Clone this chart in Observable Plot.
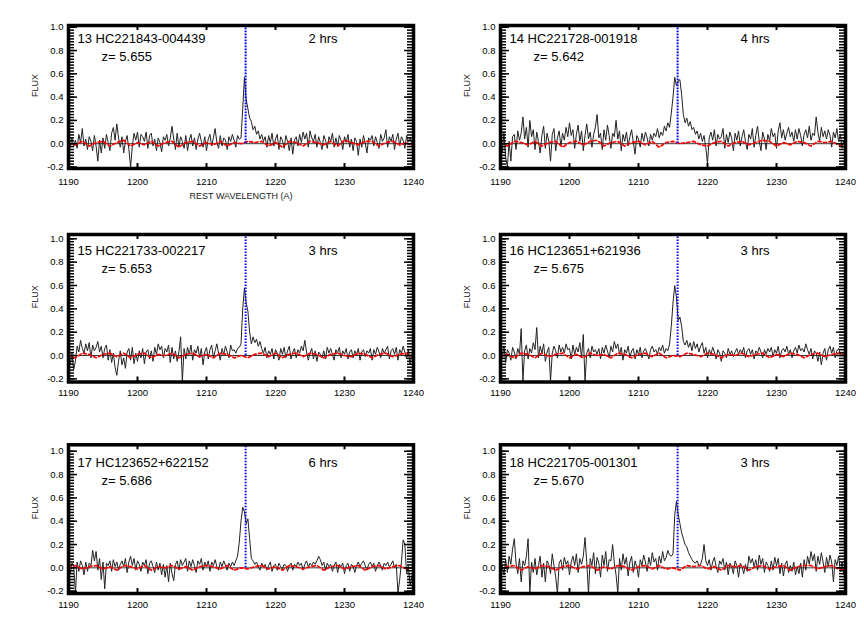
<!DOCTYPE html>
<html><head><meta charset="utf-8">
<script src="https://cdn.jsdelivr.net/npm/d3@7"></script>
<script src="https://cdn.jsdelivr.net/npm/@observablehq/plot@0.6"></script>
<style>
body{margin:0;background:#fff;}
#chart{position:relative;width:864px;height:637px;overflow:hidden;background:#fff;}
.panel{position:absolute;}
</style></head><body><div id="chart"></div>
<script>
// ---- data (flux sampled every 0.25 A from 1190 A; error-like red curve every 1 A) ----
const waveStart = 1190, fluxStep = 0.25, errStep = 1;
const lyaWave = 1215.67;
const xTickVals = [1190, 1200, 1210, 1220, 1230, 1240];
const yTickVals = [-0.2, 0, 0.2, 0.4, 0.6, 0.8, 1.0];

const names = ["13 HC221843-004439","14 HC221728-001918","15 HC221733-002217","16 HC123651+621936","17 HC123652+622152","18 HC221705-001301"];
const redshifts = ["5.655","5.642","5.653","5.675","5.686","5.670"];
const hours = ["2 hrs","4 hrs","3 hrs","3 hrs","6 hrs","3 hrs"];

const flux13 = [
0.02,-0.03,0.05,-0.02, 0.03,-0.04,0.08,0.01, 0.13,-0.02,0.04,-0.05, 0.06,0.02,-0.06,0.07,
-0.02,-0.15,0.03,-0.08, 0.05,-0.04,0.08,0.01, -0.06,0.09,0.14,0.03, 0.17,0.05,-0.03,0.06,
-0.08,0.02,0.07,-0.05, -0.20,-0.02,0.09,0.03, 0.10,-0.03,0.08,0.06, 0.02,0.10,-0.04,0.07,
0.09,-0.02,0.04,-0.06, 0.05,0.01,-0.07,0.06, 0.03,0.08,-0.02,0.05, 0.15,0.04,-0.05,0.09,
-0.03,0.06,0.02,-0.04, 0.07,-0.06,0.03,0.08, -0.02,0.05,-0.05,0.04, 0.09,0.02,-0.03,0.06,
-0.06,0.04,0.08,-0.02, 0.05,0.13,0.01,-0.04, 0.07,-0.02,0.05,0.03, -0.05,0.06,0.02,0.08,
0.03,-0.03,0.07,0.04, 0.05,0.30,0.57,0.38, 0.30,0.22,0.19,0.12, 0.15,0.08,0.11,0.04,
0.08,0.02,0.06,-0.03, 0.07,0.01,0.09,-0.02, 0.04,0.08,-0.05,0.06, 0.03,-0.04,0.07,0.02,
-0.06,0.05,-0.09,0.03, 0.06,-0.02,0.08,0.01, 0.10,0.04,0.09,-0.03, 0.11,0.05,0.02,0.08,
-0.03,0.06,0.01,-0.05, 0.07,0.03,-0.04,0.06, 0.02,0.09,-0.03,0.05, -0.02,0.07,0.03,-0.05,
0.06,0.01,0.08,-0.03, 0.04,-0.06,0.05,0.02, -0.10,0.04,-0.03,0.07, 0.01,-0.08,0.05,0.03,
0.07,-0.02,0.06,0.01, -0.04,0.08,0.02,0.05, 0.12,-0.03,0.06,0.02, 0.08,-0.05,0.04,0.09,
-0.02,0.06,0.03,-0.04, 0.07,0.02,0.05,0.01, 0.03];
const flux14 = [
0.05,-0.08,0.10,-0.12, -0.20,0.02,-0.15,0.06, 0.08,-0.05,0.11,0.03, 0.09,0.23,0.04,0.14,
-0.03,0.20,0.06,0.12, -0.05,0.10,0.02,-0.08, 0.07,0.15,-0.04,0.09, 0.02,-0.15,0.08,0.13,
-0.06,0.05,0.11,-0.02, 0.09,0.03,0.14,0.06, 0.18,0.07,0.12,-0.04, 0.08,0.16,0.02,0.11,
-0.06,0.07,0.17,0.04, 0.10,-0.03,0.08,0.14, 0.25,0.05,0.09,-0.05, 0.12,0.03,0.16,0.07,
-0.04,0.09,0.06,0.20, 0.04,0.11,-0.06,0.08, 0.02,0.10,-0.02,0.06, 0.12,0.01,-0.09,0.07,
0.04,-0.03,0.09,0.02, 0.10,0.05,-0.02,0.08, 0.03,0.09,0.06,0.13, 0.05,0.10,0.07,0.15,
0.11,0.18,0.14,0.26, 0.40,0.57,0.50,0.54, 0.55,0.42,0.25,0.18, 0.22,0.15,0.19,0.12,
0.14,0.08,0.11,0.04, 0.09,0.02,0.07,-0.03, -0.17,0.05,0.10,0.03, 0.12,-0.02,0.08,0.04,
0.06,0.13,-0.04,0.08, 0.01,0.10,0.05,-0.06, 0.09,0.03,0.11,-0.02, 0.06,0.12,0.02,-0.05,
0.08,0.04,0.13,-0.03, 0.07,0.15,0.02,-0.06, 0.10,0.04,-0.05,0.08, 0.02,0.13,0.06,0.09,
-0.04,0.11,0.18,0.05, 0.12,0.03,0.09,0.14, 0.06,0.10,0.02,0.12, 0.04,0.13,0.07,-0.02,
0.08,0.12,0.05,0.15, 0.03,0.09,0.07,0.23, 0.10,0.02,0.14,0.06, 0.11,0.04,0.12,0.07,
-0.03,0.10,0.05,0.13, 0.02,0.08,-0.04,0.03, 0.01];
const flux15 = [
-0.03,-0.08,0.02,-0.12, -0.05,0.08,0.03,0.13, 0.06,0.02,0.10,0.04, 0.11,-0.02,0.09,0.04,
0.07,0.12,0.03,0.08, -0.02,0.06,0.09,-0.04, 0.05,-0.06,0.02,-0.10, -0.17,-0.05,0.04,-0.08,
-0.02,-0.11,0.03,0.06, -0.04,0.07,-0.07,0.02, -0.05,0.04,-0.02,0.06, -0.07,0.03,0.05,-0.03,
0.04,-0.05,0.07,0.01, 0.10,0.05,0.08,-0.02, 0.06,0.03,0.09,-0.06, 0.07,-0.03,0.04,-0.05,
0.03,0.16,-0.22,0.06, -0.03,0.07,0.01,0.09, -0.04,0.05,0.02,0.08, -0.02,0.06,-0.08,0.03,
0.07,-0.03,0.05,0.09, -0.02,0.04,0.10,0.02, -0.04,0.06,0.01,0.08, 0.03,-0.02,0.09,0.04,
0.05,0.02,0.06,0.07, 0.10,0.40,0.58,0.45, 0.38,0.20,0.10,0.16, 0.11,0.14,0.08,0.12,
0.06,0.02,0.07,-0.02, 0.04,0.01,0.06,-0.03, 0.05,0.02,-0.04,0.06, 0.01,0.07,-0.02,0.04,
0.08,-0.03,0.03,0.06, -0.02,0.05,0.02,0.08, 0.04,0.13,0.03,-0.04, 0.02,0.06,-0.03,0.04,
-0.05,0.03,0.01,-0.02, 0.04,-0.03,0.07,0.02, 0.06,0.01,-0.04,0.05, 0.02,0.07,-0.02,0.04,
0.01,0.06,-0.03,0.03, 0.05,-0.02,0.04,0.01, 0.06,-0.04,0.03,0.05, -0.01,0.04,0.02,0.06,
-0.04,0.05,0.01,0.07, 0.03,-0.02,0.06,0.02, 0.05,0.08,-0.03,0.04, 0.06,0.01,0.07,-0.04,
0.05,0.02,0.08,0.03, -0.03,0.05,-0.08,0.01, -0.02];
const flux16 = [
0.06,-0.02,0.08,-0.06, 0.05,0.02,-0.04,0.07, 0.03,-0.03,0.06,0.01, 0.23,-0.22,0.04,0.09,
-0.03,0.06,0.02,0.11, 0.05,0.24,-0.02,0.08, 0.02,0.10,-0.05,0.03, 0.07,-0.22,0.02,0.08,
0.04,-0.02,0.09,0.03, 0.07,0.02,0.10,0.05, 0.06,-0.03,0.09,0.01, 0.07,0.03,0.11,-0.02,
0.18,-0.22,0.02,0.06, -0.02,0.08,0.03,0.05, 0.01,0.06,-0.03,0.07, 0.02,0.09,0.04,-0.02,
0.08,0.03,0.12,0.06, 0.10,0.01,0.07,-0.04, 0.05,0.02,0.08,-0.02, 0.04,0.06,-0.03,0.05,
0.01,0.07,-0.02,0.04, 0.06,0.02,-0.03,0.05, 0.08,0.03,0.05,0.01, 0.07,0.04,0.09,0.02,
0.06,0.04,0.10,0.25, 0.45,0.60,0.50,0.30, 0.33,0.25,0.12,0.09, 0.13,0.07,0.11,0.04,
0.12,0.06,0.10,0.03, 0.08,0.11,0.02,0.07, -0.02,0.05,0.01,0.07, 0.03,-0.03,0.05,0.02,
-0.05,0.04,0.02,-0.02, 0.06,0.01,0.04,-0.01, 0.03,0.06,0.01,0.05, 0.02,0.07,-0.02,0.04,
0.06,0.01,0.05,-0.03, 0.04,0.02,0.07,0.03, -0.02,0.05,0.01,0.06, 0.03,0.07,-0.01,0.05,
0.02,0.08,-0.02,0.04, 0.06,0.03,0.08,0.01, 0.05,-0.02,0.04,0.07, 0.02,0.09,0.04,0.06,
0.03,0.10,0.05,0.01, 0.06,-0.03,0.04,0.02, -0.05,0.03,-0.08,0.02, 0.06,-0.04,0.05,0.08,
0.02,0.07,-0.02,0.04, 0.06,0.01,0.03,-0.01, 0.00];
const flux17 = [
0.03,-0.05,0.04,0.02, -0.22,0.05,-0.03,0.06, 0.02,-0.06,0.05,-0.03, 0.04,0.02,0.15,0.06,
0.14,-0.02,0.08,-0.10, 0.05,-0.18,0.04,0.02, 0.06,-0.03,0.07,0.01, 0.05,-0.02,0.03,0.06,
0.01,0.08,-0.04,0.05, 0.10,0.02,0.08,-0.02, 0.06,0.03,-0.03,0.05, 0.02,0.07,-0.05,0.04,
0.06,0.01,-0.04,0.05, -0.02,0.04,-0.06,0.03, -0.08,0.02,-0.12,0.04, -0.05,-0.11,0.03,0.06,
-0.02,0.07,0.02,0.05, 0.08,-0.03,0.06,0.01, 0.07,0.02,-0.04,0.06, 0.03,0.08,-0.02,0.05,
0.01,0.06,-0.03,0.05, 0.02,0.07,0.01,-0.02, 0.05,0.01,0.06,0.02, -0.02,0.04,0.01,0.05,
0.02,0.06,0.10,0.22, 0.40,0.52,0.48,0.38, 0.42,0.25,0.08,0.06, 0.03,0.05,0.01,-0.02,
0.04,0.01,0.03,-0.02, 0.02,0.05,-0.03,0.02, 0.03,-0.02,0.04,0.01, -0.01,0.03,0.02,-0.03,
0.02,0.04,-0.02,0.03, 0.01,0.05,0.02,0.04, -0.02,0.03,0.06,0.01, 0.04,0.02,0.05,0.03,
0.06,0.10,0.07,0.02, 0.05,-0.02,0.04,0.01, 0.03,-0.03,0.02,0.05, -0.04,0.03,0.01,0.04,
-0.05,0.02,0.04,-0.03, 0.03,0.01,-0.04,0.02, 0.05,0.01,0.04,0.06, 0.02,-0.02,0.03,0.05,
0.01,0.04,-0.03,0.02, 0.05,0.02,-0.02,0.04, 0.02,0.05,0.01,0.03, 0.06,0.00,0.03,-0.22,
-0.10,0.05,0.24,0.20, -0.05,0.02,-0.15,-0.08, -0.02];
const flux18 = [
-0.10,0.02,-0.06,0.07, -0.04,0.10,0.03,0.16, 0.25,0.04,-0.05,0.08, -0.12,0.06,0.02,0.10,
0.25,-0.22,0.05,-0.04, 0.08,-0.06,0.02,0.10, -0.08,0.04,-0.12,0.06, 0.03,-0.05,0.12,0.02,
-0.08,-0.22,0.04,0.07, -0.02,0.09,0.03,0.06, -0.06,0.05,0.10,0.02, 0.12,-0.04,0.08,0.03,
0.10,0.26,0.05,-0.22, 0.08,0.02,0.13,-0.05, 0.09,0.04,-0.08,0.11, 0.02,0.14,-0.03,0.07,
0.06,0.20,0.04,-0.06, -0.22,0.08,-0.02,0.12, 0.03,0.09,-0.07,0.05, 0.10,-0.04,0.06,0.01,
-0.08,0.07,0.02,0.11, 0.05,-0.03,0.09,0.02, 0.13,0.05,0.08,-0.02, 0.10,0.04,0.14,0.06,
0.09,0.15,0.11,0.10, 0.12,0.45,0.57,0.46, 0.38,0.30,0.25,0.20, 0.18,0.13,0.10,0.07,
0.05,0.04,0.06,0.02, 0.03,0.08,0.20,0.06, 0.02,0.07,-0.02,0.05, 0.09,0.01,-0.04,0.06,
0.03,0.08,-0.02,0.05, -0.06,0.04,0.01,-0.05, 0.06,0.02,-0.08,0.04, 0.01,-0.05,0.03,-0.03,
0.10,0.04,0.08,0.01, 0.07,-0.02,0.11,0.03, 0.08,-0.04,0.05,0.02, -0.03,0.06,-0.02,0.09,
0.02,0.08,-0.05,0.04, -0.07,0.03,0.06,-0.04, 0.02,-0.03,0.05,-0.06, 0.01,-0.05,0.04,-0.08,
0.07,-0.02,0.10,0.03, 0.14,0.06,0.12,-0.03, 0.10,0.03,0.13,0.05, -0.04,0.09,0.01,0.11,
0.05,-0.12,0.07,0.02, 0.10,-0.03,0.05,-0.06, -0.04];

const err13 = [0.00,-0.01,0.02,-0.02,0.01,0.02,-0.02,0.01,0.03,-0.02,0.01,-0.01,0.02,-0.02,0.01,0.02,-0.03,0.01,0.02,-0.02,0.01,-0.01,0.02,-0.02,0.01,0.00,0.02,0.01,0.02,-0.02,0.01,-0.03,0.02,0.01,-0.02,0.02,0.01,-0.01,0.02,-0.02,0.03,0.01,-0.01,0.02,0.02,-0.02,0.01,0.02,-0.01,0.01,-0.03];
const err14 = [0.01,-0.02,0.02,0.01,-0.01,0.02,-0.02,0.01,0.02,-0.03,0.01,0.02,-0.01,0.02,0.03,-0.02,0.01,0.02,-0.02,0.01,0.02,-0.01,0.02,-0.03,0.01,0.02,0.00,0.01,0.02,-0.01,-0.02,0.01,0.02,-0.02,0.01,0.02,-0.01,0.01,0.03,0.02,-0.02,0.01,-0.01,0.02,0.01,-0.02,0.02,0.01,0.02,-0.01,-0.03];
const err15 = [0.00,-0.02,0.02,0.01,-0.02,0.01,0.02,-0.01,0.02,-0.02,0.01,0.02,-0.02,0.01,0.00,0.02,-0.02,0.01,0.02,-0.01,0.01,-0.02,0.02,0.01,-0.02,0.00,-0.02,0.01,0.02,-0.01,0.02,-0.02,0.01,0.02,-0.01,0.02,0.01,-0.02,0.01,0.02,0.00,-0.01,0.02,0.01,-0.02,0.01,0.02,-0.01,0.01,0.02,-0.02];
const err16 = [-0.01,0.01,-0.02,0.02,0.01,-0.02,0.02,-0.01,0.01,0.02,-0.02,0.01,-0.02,0.02,0.00,0.01,-0.02,0.02,0.01,-0.02,0.01,0.02,-0.01,0.02,-0.02,0.00,-0.01,0.02,0.01,-0.01,0.02,0.01,-0.02,0.01,0.00,0.02,-0.01,0.01,0.02,-0.02,0.01,-0.01,0.02,0.01,-0.02,0.01,0.02,-0.01,0.01,0.02,0.00];
const err17 = [0.00,0.02,-0.01,0.01,0.02,-0.01,0.01,-0.02,0.02,0.01,-0.01,0.02,-0.02,0.01,0.00,0.02,-0.01,0.01,-0.02,0.01,0.02,0.01,-0.01,0.02,-0.02,0.00,-0.01,0.01,0.02,-0.01,0.01,-0.02,0.02,0.01,-0.01,0.01,0.02,-0.02,0.01,0.02,-0.01,0.01,0.02,-0.02,0.01,0.02,-0.01,0.01,0.02,-0.01,0.01];
const err18 = [-0.01,0.01,0.02,-0.02,0.01,-0.01,0.02,0.01,-0.02,0.01,0.02,-0.01,0.01,0.02,-0.02,0.01,-0.01,0.02,0.01,-0.02,0.01,0.02,-0.01,0.02,-0.01,0.00,-0.02,0.02,0.01,0.02,-0.01,0.01,-0.02,0.02,0.01,0.02,-0.02,0.01,0.02,-0.01,0.01,0.02,-0.02,0.01,0.02,0.02,-0.01,0.01,0.02,-0.01,-0.02];

const fluxes = [flux13, flux14, flux15, flux16, flux17, flux18];
const errs = [err13, err14, err15, err16, err17, err18];

// ---- layout ----
const rows = [
  {top: 0,   height: 210, mt: 25,   mb: 42,   ymin: -0.213, ymax: 1.015, xPad: 10},
  {top: 210, height: 200, mt: 24,   mb: 28.5, ymin: -0.227, ymax: 1.037, xPad: 7},
  {top: 410, height: 227, mt: 34.3, mb: 44,   ymin: -0.22,  ymax: 1.055, xPad: 7.5}
];
const W = 432, ML = 68, MR = 19, PW = W - ML - MR;
const X0 = 1190, X1 = 1240;
const yMinor = d3.range(-0.2, 1.0001, 0.025);
const font = "'Liberation Sans', Arial, Helvetica, sans-serif";

const chart = document.getElementById("chart");

for (let k = 0; k < 6; k++) {
  const col = k % 2, r = rows[Math.floor(k / 2)];
  const PH = r.height - r.mt - r.mb;
  const spec = fluxes[k].map((f, i) => ({w: waveStart + i * fluxStep, f}));
  const err = errs[k].map((f, i) => ({w: waveStart + i * errStep, f}));
  const tk = {stroke: "#000", strokeWidth: 1.5};
  const marks = [
    Plot.ruleY([0], {stroke: "#222", strokeWidth: 0.9}),
    Plot.line(spec, {x: "w", y: "f", stroke: "#222", strokeWidth: 1, clip: true}),
    Plot.line(err, {x: "w", y: "f", stroke: "#ff0000", strokeWidth: 1.7, strokeDasharray: "3,2.5", clip: true}),
    Plot.ruleX([lyaWave], {x: d => d, y1: () => 0, y2: () => r.ymax, stroke: "#0000ff", strokeWidth: 2, strokeDasharray: "1.6,1.4"}),
    // inward minor/major ticks on left and right edges (pixel insets)
    Plot.tickY(yMinor, {y: d => d, insetRight: PW - 6, ...tk}),
    Plot.tickY(yMinor, {y: d => d, insetLeft: PW - 6, ...tk}),
    Plot.tickY(yTickVals, {y: d => d, insetRight: PW - 9, ...tk}),
    Plot.tickY(yTickVals, {y: d => d, insetLeft: PW - 9, ...tk}),
    // inward major ticks on top and bottom edges
    Plot.tickX(xTickVals, {x: d => d, insetTop: PH - 5, stroke: "#000", strokeWidth: 2}),
    Plot.tickX(xTickVals, {x: d => d, insetBottom: PH - 5, stroke: "#000", strokeWidth: 2}),
    Plot.frame({stroke: "#000", strokeWidth: 3.5}),
    Plot.text([names[k]], {x: () => 1191.3, y: () => 0.9, text: d => d, textAnchor: "start", fontSize: 13, fill: "#000"}),
    Plot.text(["z= " + redshifts[k]], {x: () => 1194.8, y: () => 0.745, text: d => d, textAnchor: "start", fontSize: 13, fill: "#000"}),
    Plot.text([hours[k]], {x: () => 1224.8, y: () => 0.9, text: d => d, textAnchor: "start", fontSize: 13, fill: "#000"}),
    Plot.text(["FLUX"], {frameAnchor: "left", dx: -33, rotate: -90, text: d => d, fontSize: 9, fill: "#222"})
  ];
  if (k === 0) marks.push(Plot.text(["REST WAVELENGTH (A)"], {frameAnchor: "bottom", dy: 30, text: d => d, fontSize: 9, fill: "#222"}));
  const svg = Plot.plot({
    width: W, height: r.height,
    marginLeft: ML, marginRight: MR, marginTop: r.mt, marginBottom: r.mb,
    style: {fontFamily: font, fontSize: "9.5px", color: "#000", background: "transparent"},
    x: {domain: [X0, X1], ticks: xTickVals, tickFormat: d => String(d), tickSize: 0, tickPadding: r.xPad, label: null},
    y: {domain: [r.ymin, r.ymax], ticks: yTickVals, tickFormat: d => d.toFixed(1), tickSize: 0, tickPadding: 5, label: null},
    marks
  });
  const div = document.createElement("div");
  div.className = "panel";
  div.style.left = (col * W) + "px";
  div.style.top = r.top + "px";
  div.appendChild(svg);
  chart.appendChild(div);
}
</script></body></html>
